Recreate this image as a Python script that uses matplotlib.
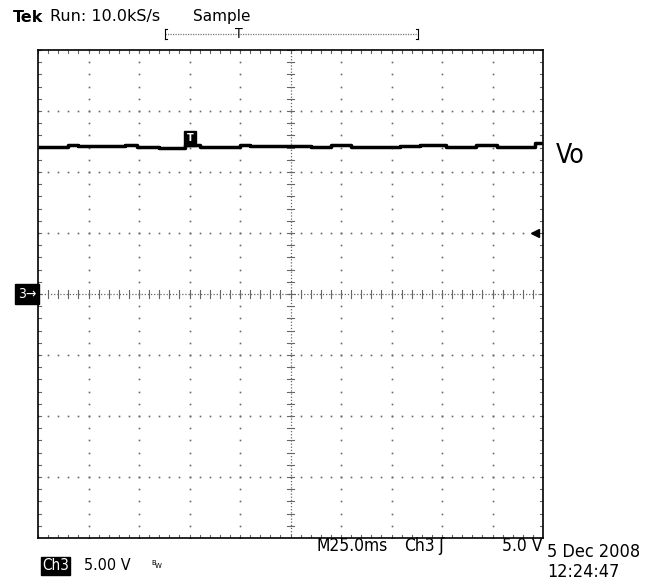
import numpy as np
import matplotlib
matplotlib.use("Agg")
import matplotlib.pyplot as plt
from matplotlib.patches import Rectangle
from matplotlib import font_manager as fm

volts_per_div = 5.0
ms_per_div = 25.0
trigger_time_ms = 75.0
trigger_level_v = 5.0
trace_t_ms = [0, 15, 20, 43, 49, 60, 73, 80, 100, 105, 125, 135, 145, 155, 179, 189, 202, 217, 227, 246, 250]
trace_v = [12.05, 12.25, 12.1, 12.25, 12.05, 12.0, 12.2, 12.05, 12.2, 12.1, 12.15, 12.05, 12.2, 12.05, 12.1, 12.2, 12.05, 12.25, 12.05, 12.35, 12.35]
header_left = "Run: 10.0kS/s"
header_mode = "Sample"
ch_label = "Ch3"
ch_scale = "5.00 V"
timebase_text = "M25.0ms"
trig_src = "Ch3"
trig_text = "5.0 V"
date_text = "5 Dec 2008"
time_text = "12:24:47"
trace_name = "Vo"

cond = [f for f in fm.fontManager.ttflist if "Condensed" in f.fname and "DejaVuSans" in f.fname
        and "Bold" not in f.fname and "Oblique" not in f.fname]
narrow = fm.FontProperties(fname=cond[0].fname).get_name() if cond else "DejaVu Sans"
narrow_kw = dict(family=narrow, fontstretch="condensed")

fig = plt.figure(figsize=(6.5, 5.81), dpi=100)
fig.patch.set_facecolor("white")
W, H = 650, 581
L, R, T, B = 38, 543, 50, 538
ax = fig.add_axes([L / W, 1 - B / H, (R - L) / W, (B - T) / H])
nx, ny = 10, 8
xmax = nx * ms_per_div
ymax = ny / 2 * volts_per_div
ax.set_xlim(0, xmax)
ax.set_ylim(-ymax, ymax)
ax.set_xticks([])
ax.set_yticks([])
for s in ax.spines.values():
    s.set_linewidth(1.2)
    s.set_color("black")

gc = "#666666"
dx = ms_per_div
dy = volts_per_div
# dotted major grid lines
for i in range(1, nx):
    if i == nx // 2:
        continue
    ys = np.arange(-ymax, ymax + 1e-9, dy / 5)
    ax.plot(np.full_like(ys, i * dx), ys, ls="none", marker="s", ms=1.2, color=gc, mew=0)
for j in range(1, ny):
    if j == ny // 2:
        continue
    xs = np.arange(0, xmax + 1e-9, dx / 5)
    ax.plot(xs, np.full_like(xs, -ymax + j * dy), ls="none", marker="s", ms=1.2, color=gc, mew=0)
# center lines
ax.plot([0, xmax], [0, 0], ls=(0, (1, 1.5)), lw=0.9, color=gc)
ax.plot([xmax / 2, xmax / 2], [-ymax, ymax], ls=(0, (1, 1.5)), lw=0.9, color=gc)
for x in np.arange(0, xmax + 1e-9, dx / 5):
    ax.plot([x, x], [-0.06 * dy, 0.06 * dy], lw=0.8, color=gc)
for y in np.arange(-ymax, ymax + 1e-9, dy / 5):
    ax.plot([xmax / 2 - 0.07 * dx, xmax / 2 + 0.07 * dx], [y, y], lw=0.8, color=gc)
# border ticks
for x in np.arange(0, xmax + 1e-9, dx / 5):
    ax.plot([x, x], [ymax, ymax - 0.05 * dy], lw=0.8, color=gc)
    ax.plot([x, x], [-ymax, -ymax + 0.05 * dy], lw=0.8, color=gc)
for y in np.arange(-ymax, ymax + 1e-9, dy / 5):
    ax.plot([0, 0.05 * dx], [y, y], lw=0.8, color=gc)
    ax.plot([xmax, xmax - 0.05 * dx], [y, y], lw=0.8, color=gc)

# trace
ax.plot(trace_t_ms, trace_v, drawstyle="steps-post", color="black", lw=2.5, solid_capstyle="butt")

# trigger position marker on trace
ax.add_patch(Rectangle((trigger_time_ms - 0.1 * dx, trace_v[6] - 0.02 * dy), 0.22 * dx, 0.26 * dy,
                       color="black", zorder=5, clip_on=False))
ax.text(trigger_time_ms + 0.01 * dx, trace_v[6] + 0.11 * dy, "T", color="white", ha="center", va="center",
        fontsize=7, fontweight="bold", zorder=6)
# trigger level arrow
ax.plot([xmax - 0.15 * dx], [trigger_level_v], marker="<", ms=6, color="black", clip_on=False)

# ground marker
fig.text(18 / W, 1 - 294 / H, "3\u2192", color="white", fontsize=10, va="center", ha="left",
         **narrow_kw, bbox=dict(boxstyle="square,pad=0.2", fc="black", ec="black"))

# trace label
fig.text(556 / W, 1 - 156 / H, trace_name, fontsize=19, va="center", ha="left", **narrow_kw)

# header
fig.text(13 / W, 1 - 17 / H, "Tek", fontsize=11.5, fontweight="bold", va="center", ha="left")
fig.text(50 / W, 1 - 17 / H, header_left, fontsize=11.5, va="center", ha="left")
fig.text(193 / W, 1 - 17 / H, header_mode, fontsize=11, va="center", ha="left")
# record bracket
by = 1 - 34 / H
fig.add_artist(plt.Line2D([165 / W, 418 / W], [by, by], color="#777777", lw=0.9, ls=(0, (1, 1))))
for xb, d in [(165, 1), (418, -1)]:
    fig.add_artist(plt.Line2D([xb / W, xb / W], [by - 5 / H, by + 5 / H], color="black", lw=0.8))
    fig.add_artist(plt.Line2D([xb / W, (xb + 2 * d) / W], [by + 5 / H, by + 5 / H], color="black", lw=0.8))
    fig.add_artist(plt.Line2D([xb / W, (xb + 2 * d) / W], [by - 5 / H, by - 5 / H], color="black", lw=0.8))
fig.text(239 / W, by, "T", fontsize=10, va="center", ha="center", **narrow_kw)

# bottom
fig.text(316 / W, 1 - 546 / H, timebase_text, fontsize=12.5, va="center", ha="left", **narrow_kw)
fig.text(404 / W, 1 - 546 / H, trig_src, fontsize=12.5, va="center", ha="left", **narrow_kw)
fig.text(438 / W, 1 - 546 / H, "\u0283", fontsize=12, va="center", ha="left", family="DejaVu Sans")
fig.text(542 / W, 1 - 546 / H, trig_text, fontsize=12.5, va="center", ha="right", **narrow_kw)
fig.text(547 / W, 1 - 552 / H, date_text, fontsize=13, va="center", ha="left", **narrow_kw)
fig.text(547 / W, 1 - 572 / H, time_text, fontsize=13, va="center", ha="left", **narrow_kw)
fig.text(42 / W, 1 - 566 / H, ch_label, color="white", fontsize=11, va="center", ha="left", **narrow_kw,
         bbox=dict(boxstyle="square,pad=0.08", fc="black", ec="black"))
fig.text(84 / W, 1 - 566 / H, ch_scale, fontsize=11.5, va="center", ha="left", **narrow_kw)
fig.text(151 / W, 1 - 563 / H, "B", fontsize=5, va="center", ha="left")
fig.text(155 / W, 1 - 566 / H, "W", fontsize=5, va="center", ha="left")

fig.savefig("out.png", dpi=100, facecolor="white")
